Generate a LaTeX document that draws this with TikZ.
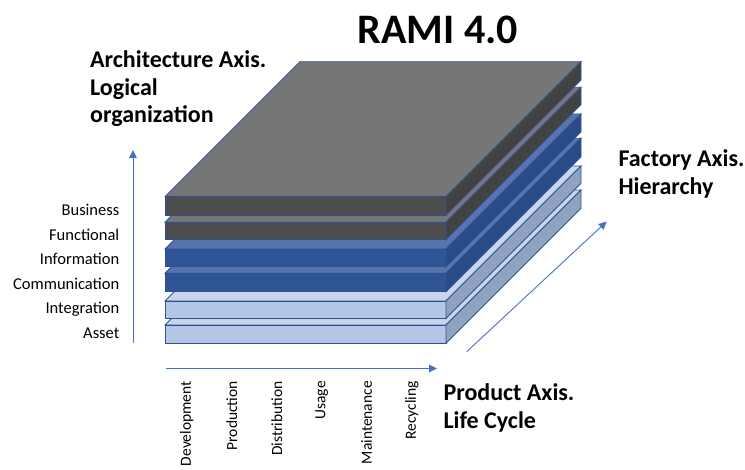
\documentclass[tikz,border=0pt]{standalone}
\usepackage{fontspec}
\setmainfont{Carlito}
\usetikzlibrary{arrows.meta}
\definecolor{axisblue}{HTML}{4472C4}
\definecolor{slabline}{HTML}{2F528F}
\definecolor{gtop}{HTML}{767676}
\definecolor{gfront}{HTML}{4D4D4D}
\definecolor{gside}{HTML}{424242}
\definecolor{btop}{HTML}{5675AE}
\definecolor{bfront}{HTML}{2F5597}
\definecolor{bside}{HTML}{294B87}
\definecolor{ltop}{HTML}{C8D5ED}
\definecolor{lfront}{HTML}{B4C7E7}
\definecolor{lside}{HTML}{8FA3C1}
\newcommand\ramislab[5]{%
  \filldraw[slabedge, fill=#3] (165,#1) -- ++(135,-135) -- ++(281,0) -- ++(-135,135) -- cycle;
  \filldraw[slabedge, fill=#4] (165,#1) rectangle (446,#2);
  \filldraw[slabedge, fill=#5] (446,#1) -- ++(135,-135) -- (581,{#2-135}) -- (446,#2) -- cycle;
}
\tikzset{
  slabedge/.style={draw=slabline, line width=0.8pt, line join=miter},
  axisarrow/.style={draw=axisblue, line width=0.9pt, -{Triangle[length=8pt,width=7.5pt]}},
  layerlbl/.style={inner sep=0pt, font=\fontsize{16.5}{20}\selectfont, text=black, anchor=base east},
  phaselbl/.style={inner sep=0pt, font=\fontsize{15.5}{19}\selectfont, rotate=90, anchor=east},
  axistitle/.style={inner sep=0pt, align=left, font=\bfseries\fontsize{24}{27.5}\selectfont, anchor=north west},
}
\begin{document}
\begin{tikzpicture}[x=1pt,y=-1pt]
\useasboundingbox (0,0) rectangle (745,470);
% slabs, bottom to top
\ramislab{325}{343.3}{ltop}{lfront}{lside}
\ramislab{301}{318.3}{ltop}{lfront}{lside}
\ramislab{273.3}{291.7}{btop}{bfront}{bside}
\ramislab{249}{266.7}{btop}{bfront}{bside}
\ramislab{222.3}{239.5}{gtop}{gfront}{gside}
\ramislab{196.7}{215}{gtop}{gfront}{gside}
% title
\node[inner sep=0pt, anchor=base, font=\bfseries\fontsize{42}{50}\selectfont] (rami) at (438,43.5) {RAMI 4.0};
% axis titles
\node[axistitle] (arch) at (90,50.5) {Architecture Axis.\\Logical\\organization};
\node[axistitle] (fact) at (618.3,149.5) {Factory Axis.\\Hierarchy};
\node[axistitle] (prod) at (443.3,383.5) {Product Axis.\\Life Cycle};
% layer labels
\node[layerlbl] (business) at (119.5,216) {Business};
\node[layerlbl] (functional) at (119.5,240.5) {Functional};
\node[layerlbl] (information) at (119.5,265) {Information};
\node[layerlbl] (communication) at (119.5,289.5) {Communication};
\node[layerlbl] (integration) at (119.5,314) {Integration};
\node[layerlbl] (asset) at (119.5,338.5) {Asset};
% life cycle labels
\node[phaselbl] (dev) at (186.7,381) {Development};
\node[phaselbl] (pro) at (231.7,381) {Production};
\node[phaselbl] (dis) at (276.7,381) {Distribution};
\node[phaselbl] (usa) at (321.7,381) {Usage};
\node[phaselbl] (mai) at (366.7,381) {Maintenance};
\node[phaselbl] (rec) at (411.7,381) {Recycling};
% axes
\coordinate (vA) at (133,343);
\coordinate (vB) at (133,150);
\coordinate (hA) at (166,368.5);
\coordinate (hB) at (437,368.5);
\coordinate (dA) at (466.7,351.7);
\coordinate (dB) at (606.7,221.5);
\draw[axisarrow] (vA) -- (vB);
\draw[axisarrow] (hA) -- (hB);
\draw[axisarrow] (dA) -- (dB);
\end{tikzpicture}
\end{document}
